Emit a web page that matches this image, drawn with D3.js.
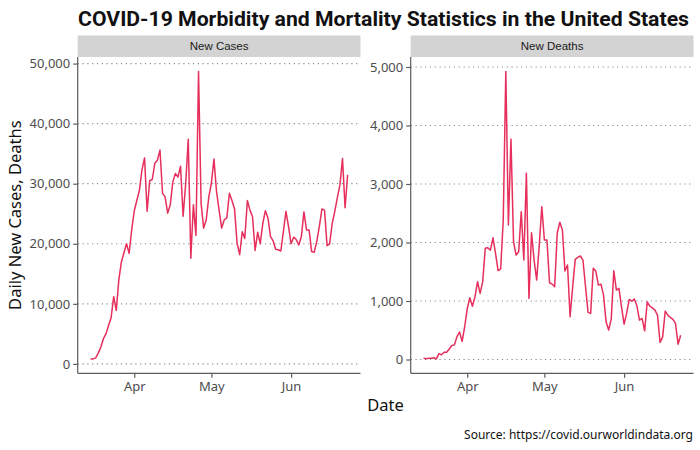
<!DOCTYPE html>
<html>
<head>
<meta charset="utf-8">
<script src="https://cdn.jsdelivr.net/npm/d3@7/dist/d3.min.js"></script>
<style>
  html, body { margin: 0; padding: 0; background: #ffffff; }
  svg { display: block; }
</style>
</head>
<body>
<svg id="chart" width="700" height="450"></svg>
<script>
// ---------------- DATA ----------------
const startDate = "2020-03-15";           // first daily observation
const panelTitles = ["New Cases", "New Deaths"];
const monthTicks = ["2020-04-01", "2020-05-01", "2020-06-01"];
const casesTicks = [0, 10000, 20000, 30000, 40000, 50000];
const deathsTicks = [0, 1000, 2000, 3000, 4000, 5000];

const newCases = [
  830, 830, 1000, 1800, 2800, 4200, 5000, 6400, 7700, 11200,
  8900, 14000, 17000, 18500, 20000, 18400, 22300, 25500, 27200, 28900,
  32300, 34300, 25400, 30500, 30700, 33400, 33900, 35600, 28400, 27800,
  25100, 26500, 30300, 31700, 31100, 32900, 24600, 30000, 37400, 17600,
  26500, 21400, 48700, 26700, 22600, 24000, 27800, 30100, 34100, 28700,
  25600, 22600, 24000, 24300, 28400, 27200, 25800, 20100, 18200, 22000,
  20900, 27200, 25600, 24500, 18900, 21900, 20000, 23400, 25500, 24300,
  21200, 20500, 19100, 19000, 18800, 22000, 25400, 22900, 20000, 21100,
  20700, 19800, 21200, 25300, 22300, 22300, 18700, 18600, 20400, 22900,
  25800, 25600, 19700, 20000, 23400, 25400, 27700, 29800, 34200, 26000,
  31500
];

const newDeaths = [
  20, 15, 20, 20, 30, 10, 100, 80, 125, 125,
  180, 240, 250, 390, 470, 310, 560, 870, 1055, 910,
  1070, 1330, 1130, 1330, 1900, 1910, 1870, 2080, 1815, 1520,
  1550, 2385, 4925, 2300, 3767, 2014, 1786, 1843, 2527, 1700,
  3185, 1045, 2168, 1700, 1358, 1950, 2613, 2043, 2043, 1312,
  1289, 1243, 2158, 2346, 2214, 1512, 1615, 730, 1243, 1712,
  1747, 1769, 1700, 1243, 805, 788, 1558, 1512, 1272, 1289,
  1101, 644, 502, 690, 1517, 1187, 1216, 901, 604, 788,
  1027, 998, 1033, 913, 673, 702, 490, 986, 913, 884,
  844, 759, 291, 387, 827, 759, 719, 685, 616, 262,
  416
];

// ---------------- LAYOUT ----------------
const svg = d3.select("#chart");
const parse = d3.utcParse("%Y-%m-%d");
const t0 = parse(startDate);
const dates = newCases.map((_, i) => d3.utcDay.offset(t0, i));

const panelTop = 57, panelBottom = 373.3;
const stripTop = 35.5;
const panels = [
  { x0: 77.7, x1: 360.5, values: newCases, ticks: casesTicks, title: panelTitles[0] },
  { x0: 410.7, x1: 693.5, values: newDeaths, ticks: deathsTicks, title: panelTitles[1] }
];

const lineColor = "#e62f5c";
const axisColor = "#5c5c5c";
const tickTextColor = "#4d4d4d";
const fontTick = "'Noto Sans', 'Open Sans', sans-serif";

// x domain: data range expanded 5% each side (ggplot-like)
const dExt = d3.extent(dates);
const span = dExt[1] - dExt[0];
const xDomain = [new Date(+dExt[0] - span * 0.05), new Date(+dExt[1] + span * 0.05)];

panels.forEach(p => {
  const g = svg.append("g");
  const x = d3.scaleUtc().domain(xDomain).range([p.x0, p.x1]);
  const ext = d3.extent(p.values);
  const pad = (ext[1] - ext[0]) * 0.05;
  const y = d3.scaleLinear().domain([ext[0] - pad, ext[1] + pad]).range([panelBottom, panelTop]);

  // strip
  g.append("rect")
    .attr("x", p.x0).attr("y", stripTop)
    .attr("width", p.x1 - p.x0).attr("height", panelTop - stripTop)
    .attr("fill", "#d3d3d3");
  g.append("text")
    .attr("x", (p.x0 + p.x1) / 2).attr("y", (stripTop + panelTop) / 2 + 4)
    .attr("text-anchor", "middle")
    .attr("font-family", "'Liberation Sans', Arial, sans-serif")
    .attr("font-size", 11.5)
    .attr("fill", "#1a1a1a")
    .text(p.title);

  // dotted horizontal gridlines
  g.append("g").selectAll("line").data(p.ticks).join("line")
    .attr("x1", p.x0).attr("x2", p.x1)
    .attr("y1", d => y(d)).attr("y2", d => y(d))
    .attr("stroke", "#8a8a8a")
    .attr("stroke-width", 1.2)
    .attr("stroke-dasharray", "1.2,3.6");

  // line
  const line = d3.line().x((d, i) => x(dates[i])).y(d => y(d));
  g.append("path").datum(p.values)
    .attr("d", line)
    .attr("fill", "none")
    .attr("stroke", lineColor)
    .attr("stroke-width", 1.5)
    .attr("stroke-linejoin", "round");

  // y axis
  const ya = g.append("g")
    .attr("transform", `translate(${p.x0},0)`)
    .call(d3.axisLeft(y).tickValues(p.ticks).tickFormat(d3.format(",")).tickSize(4.5).tickPadding(3));
  ya.select(".domain").attr("d", `M0,${panelTop}V${panelBottom}`);

  // x axis
  const xa = g.append("g")
    .attr("transform", `translate(0,${panelBottom})`)
    .call(d3.axisBottom(x).tickValues(monthTicks.map(parse)).tickFormat(d3.utcFormat("%b")).tickSize(4.5).tickPadding(4));
  xa.select(".domain").attr("d", `M${p.x0},0H${p.x1}`);

  [ya, xa].forEach(a => {
    a.select(".domain").attr("stroke", axisColor).attr("stroke-width", 1.2);
    a.selectAll(".tick line").attr("stroke", axisColor).attr("stroke-width", 1.2);
    a.selectAll(".tick text")
      .attr("fill", tickTextColor)
      .attr("font-family", fontTick)
      .attr("font-size", 13);
  });
});

// title
svg.append("text")
  .attr("x", 78).attr("y", 26)
  .attr("font-family", "Roboto, 'Noto Sans', sans-serif")
  .attr("font-weight", 700)
  .attr("font-size", 21)
  .attr("fill", "#111")
  .attr("textLength", 611)
  .attr("lengthAdjust", "spacingAndGlyphs")
  .text("COVID-19 Morbidity and Mortality Statistics in the United States");

// axis titles
svg.append("text")
  .attr("transform", `translate(21,${(panelTop + panelBottom) / 2}) rotate(-90)`)
  .attr("text-anchor", "middle")
  .attr("font-family", fontTick)
  .attr("font-size", 16.5)
  .attr("fill", "#111")
  .text("Daily New Cases, Deaths");

svg.append("text")
  .attr("x", (panels[0].x0 + panels[1].x1) / 2).attr("y", 411)
  .attr("text-anchor", "middle")
  .attr("font-family", fontTick)
  .attr("font-size", 16.5)
  .attr("fill", "#111")
  .text("Date");

// caption
svg.append("text")
  .attr("x", 693).attr("y", 439)
  .attr("text-anchor", "end")
  .attr("font-family", fontTick)
  .attr("font-size", 12)
  .attr("fill", "#111")
  .text("Source: https://covid.ourworldindata.org");
</script>
</body>
</html>
